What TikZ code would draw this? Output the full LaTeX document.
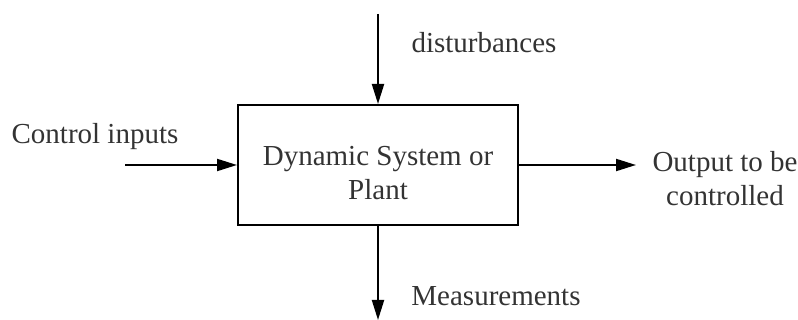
\documentclass[tikz,border=0pt]{standalone}
\usepackage{fontspec}
\setmainfont{Liberation Serif}
\usetikzlibrary{arrows.meta}

\begin{document}
\begin{tikzpicture}
[
    x=1pt, y=-1pt,
    every node/.style={font=\fontsize{29}{34}\selectfont, text=black!80},
    plant/.style={draw, line width=2pt, minimum width=280pt, minimum height=120pt, align=center},
    signal/.style={line width=2pt, -{Triangle[length=20pt,width=12pt]}},
    tag/.style={align=center, inner sep=0pt},
]
\useasboundingbox (0,0) rectangle (798,320);
\node [plant] (plant) at (378,165) {};
\node [tag] (plantname) at (378,173) {Dynamic System or\\Plant};
% free ends
\coordinate (dstart) at (378,14);
\coordinate (cstart) at (125,165);
\coordinate (oend) at (636,165);
\coordinate (mend) at (378,320);
\node [tag] (dist) at (484,43) {disturbances};
\node [tag] (ctrl) at (95,137) {Control inputs};
\node [tag] (out) at (725,179) {Output to be\\controlled};
\node [tag] (meas) at (496,296) {Measurements};
\draw [signal] (dstart) -- (plant.north);
\draw [signal] (cstart) -- (plant.west);
\draw [signal] (plant.east) -- (oend);
\draw [signal] (plant.south) -- (mend);
\end{tikzpicture}
\end{document}
